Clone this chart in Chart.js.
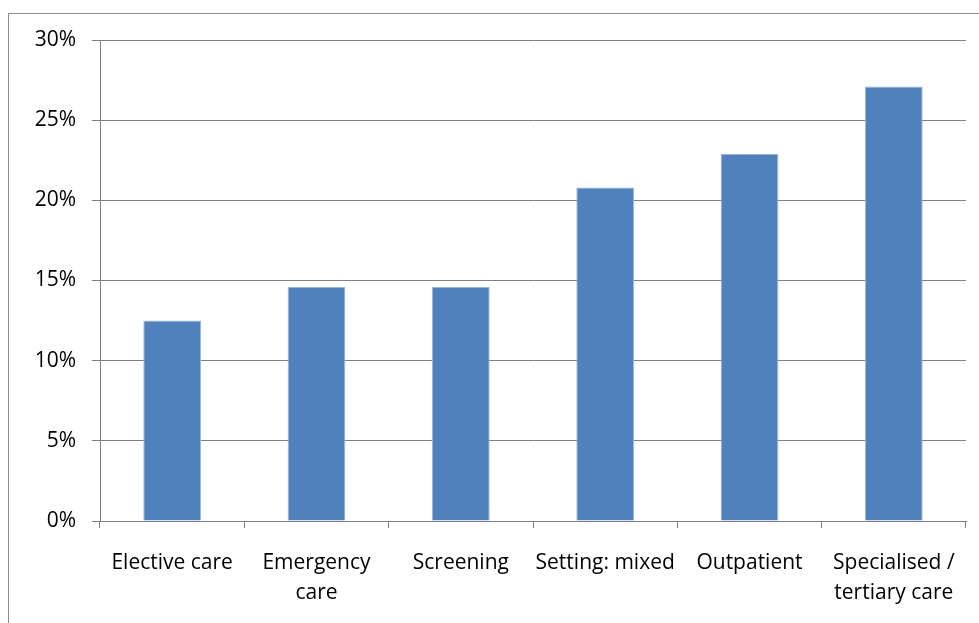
<!DOCTYPE html>
<html>
<head>
<meta charset="utf-8">
<script src="https://cdn.jsdelivr.net/npm/chart.js@4"></script>
<style>
  html, body { margin: 0; padding: 0; background: #fff; }
  #wrap { position: relative; width: 979px; height: 623px; overflow: hidden; }
  #frame { position: absolute; left: 8px; top: 13px; width: 1000px; height: 700px;
           border-left: 1.5px solid #8c8c8c; border-top: 1.5px solid #8c8c8c; }
  canvas { position: absolute; left: 0; top: 0; }
</style>
</head>
<body>
<div id="wrap">
  <div id="frame"></div>
  <canvas id="chart" width="979" height="623"></canvas>
</div>
<script>
// categories and values (percent)
const categories = [
    'Elective care',
    ['Emergency', 'care'],
    'Screening',
    'Setting: mixed',
    'Outpatient',
    ['Specialised /', 'tertiary care']
];
const shares = [12.5, 14.6, 14.6, 20.8, 22.9, 27.1];
const yTicks = [0, 5, 10, 15, 20, 25, 30];

const gridColor = '#808080';
const font = { family: '"Open Sans", sans-serif', size: 21, lineHeight: 1.42 };

new Chart(document.getElementById('chart').getContext('2d'), {
    type: 'bar',
    data: {
        labels: categories,
        datasets: [{
            data: shares,
            backgroundColor: '#4f81bd',
            borderColor: '#9bb7dc',
            borderWidth: 1,
            barPercentage: 0.4,
            categoryPercentage: 1
        }]
    },
    options: {
        responsive: false,
        animation: false,
        layout: { padding: { left: 0, top: 40, right: 13, bottom: 0 } },
        plugins: { legend: { display: false }, tooltip: { enabled: false } },
        scales: {
            x: {
                offset: true,
                grid: { offset: true, drawOnChartArea: false, drawTicks: true, tickLength: 7, color: gridColor },
                border: { color: gridColor, width: 1 },
                ticks: { color: '#000', font: font, padding: 20, maxRotation: 0, autoSkip: false },
                afterFit: s => { s.height = 102; }
            },
            y: {
                min: 0,
                max: 30,
                afterBuildTicks: s => { s.ticks = yTicks.map(v => ({ value: v })); },
                grid: { color: gridColor, tickLength: 8 },
                border: { color: gridColor, width: 1 },
                ticks: { color: '#000', font: { family: font.family, size: 21 }, padding: 16, callback: v => v + '%' },
                afterFit: s => { s.width = 100; }
            }
        }
    }
});
</script>
</body>
</html>
